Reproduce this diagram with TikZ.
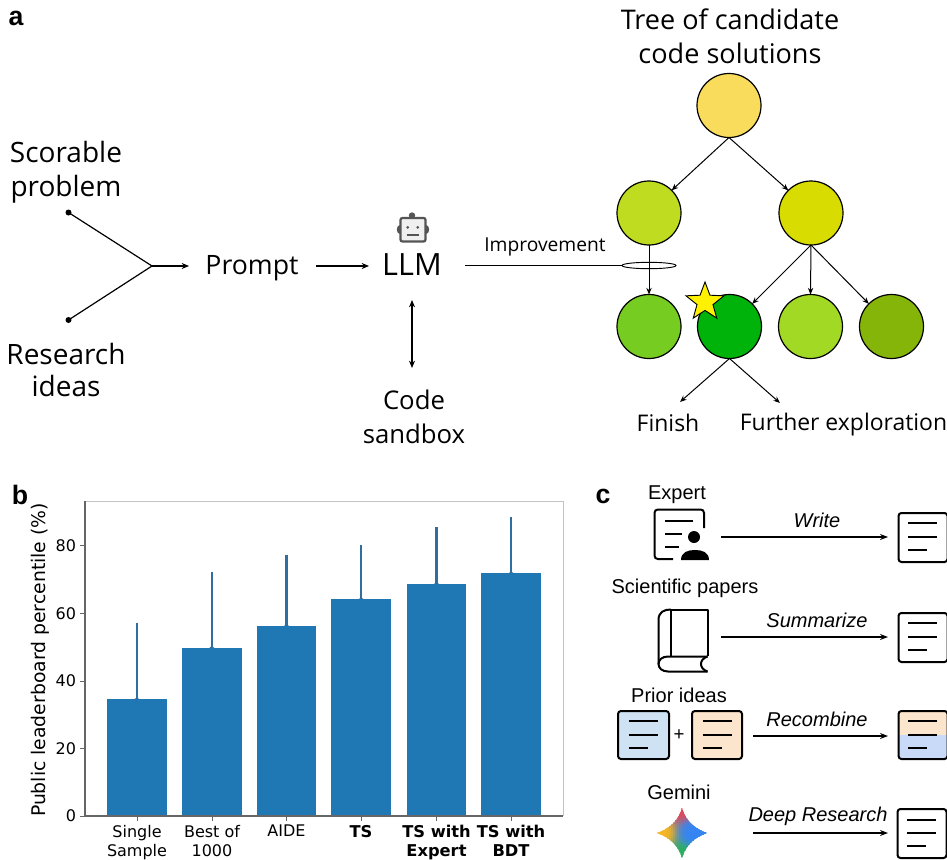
\documentclass[tikz,border=0pt]{standalone}
\usepackage{fontspec}
\setmainfont{Liberation Sans}
\newfontfamily\gfont{Open Sans}
\newfontfamily\dvfont{DejaVu Sans}
\usetikzlibrary{arrows.meta,shapes.geometric}
\definecolor{barblue}{HTML}{1F77B4}
\definecolor{errblue}{HTML}{2F6E9E}
\definecolor{spinegray}{HTML}{666666}
\definecolor{lightspine}{HTML}{C4C4C4}
\definecolor{docblue}{HTML}{CFE2F3}
\definecolor{docorange}{HTML}{FCE5CD}
\definecolor{mixblue}{HTML}{C9DAF8}
\definecolor{robotgray}{HTML}{555555}
\definecolor{troot}{RGB}{249,220,92}
\definecolor{tl}{RGB}{191,220,32}
\definecolor{tr}{RGB}{217,220,0}
\definecolor{tba}{RGB}{118,204,32}
\definecolor{tbb}{RGB}{0,179,10}
\definecolor{tbc}{RGB}{162,217,37}
\definecolor{tbd}{RGB}{134,181,10}
\tikzset{
  x=0.75pt, y=-0.75pt,
  every node/.style={inner sep=0pt, outer sep=0pt},
  biglabel/.style={font=\gfont\fontsize{20.3}{25.5}\selectfont, align=center},
  leaflabel/.style={font=\gfont\fontsize{17.2}{20}\selectfont},
  smlabel/.style={font=\fontsize{15}{18}\selectfont, align=center},
  itlabel/.style={font=\itshape\fontsize{15}{18}\selectfont},
  panel/.style={font=\bfseries\fontsize{20}{22}\selectfont},
  tick/.style={font=\dvfont\fontsize{12}{14.2}\selectfont, align=center},
  btick/.style={font=\dvfont\bfseries\fontsize{12.2}{14.2}\selectfont, align=center},
  treenode/.style={circle, draw=black, line width=0.9pt, minimum size=48pt},
  flow/.style={-{Stealth[length=5.5pt,width=4.5pt]}, line width=0.85pt},
  treearrow/.style={-{Stealth[length=5pt,width=4pt]}, line width=0.75pt},
  docarrow/.style={-{Stealth[length=6pt,width=4.5pt]}, line width=0.9pt},
  bar/.style={fill=barblue, draw=none},
  errbar/.style={draw=errblue, line width=1.6pt},
  doc/.style={rounded corners=2.2pt, line width=1.5pt, draw=black},
  docline/.style={line width=1.5pt, draw=black},
  endpoint/.style={circle, fill=black, minimum size=4.5pt}
}
\newcommand{\doclines}[2]{% x, top y of the document
  \draw[docline] (#1+10,#2+10) -- (#1+39,#2+10);
  \draw[docline] (#1+10,#2+23.5) -- (#1+39,#2+23.5);
  \draw[docline] (#1+10,#2+36.5) -- (#1+29,#2+36.5);
}
\begin{document}
\begin{tikzpicture}
\useasboundingbox (0,0) rectangle (947,860);
% ---- panel letters
\node[panel] (pa) at (16,18) {a};
\node[panel] (pb) at (20,495) {b};
\node[panel] (pc) at (603,496) {c};

% ---- panel a
\node[biglabel, font=\gfont\fontsize{21}{25.5}\selectfont] (scorable) at (66,172.5) {Scorable\\problem};
\node[biglabel, font=\gfont\fontsize{21}{24.5}\selectfont] (research) at (66,370) {Research\\ideas};
\node[endpoint] (d1) at (68.5,212.5) {};
\node[endpoint] (d2) at (68.5,320) {};
\coordinate (merge) at (152,266);
\node[biglabel, font=\gfont\fontsize{20}{25.5}\selectfont] (prompt) at (252,268) {Prompt};
\node[biglabel, font=\gfont\fontsize{23}{25.5}\selectfont] (llm) at (412,265) {LLM};
\node[biglabel, font=\gfont\fontsize{19.3}{25.5}\selectfont] (sandbox) at (414,417) {Code\\sandbox};
\draw[line width=0.9pt] (d1.center) -- (merge);
\draw[line width=0.9pt] (d2.center) -- (merge);
\coordinate (pin) at (189,266);
\draw[flow] (merge) -- (pin);
\coordinate (pout) at (316,266);
\coordinate (lin) at (369,266);
\draw[flow] (pout) -- (lin);
\coordinate (la) at (412,300);
\coordinate (lb) at (412,368);
\draw[{Stealth[length=5.5pt,width=4.5pt]}-{Stealth[length=5.5pt,width=4.5pt]}, line width=0.85pt] (la) -- (lb);

% robot icon
\fill[robotgray] (412,215.5) circle (3.2);
\fill[robotgray] (400,229.5) ellipse (3.2 and 4.5);
\fill[robotgray] (426,229.5) ellipse (3.2 and 4.5);
\draw[robotgray, fill=gray!12, line width=1.7pt, rounded corners=1.5pt] (400.5,218) rectangle (425.5,241.5);
\fill[robotgray] (407.7,227.3) circle (1.5);
\fill[robotgray] (417.7,227.3) circle (1.5);
\draw[robotgray, line width=1.1pt] (406.7,235) -- (419,235);

% tree
\node[biglabel] (treetitle) at (730,36) {Tree of candidate\\code solutions};
\node[treenode, fill=troot] (root) at (729,105.5) {};
\node[treenode, fill=tl] (L) at (649,213) {};
\node[treenode, fill=tr] (R) at (811,213) {};
\node[treenode, fill=tba] (B1) at (649,326.5) {};
\node[treenode, fill=tbb] (B2) at (729.5,326.5) {};
\node[treenode, fill=tbc] (B3) at (810.5,326.5) {};
\node[treenode, fill=tbd] (B4) at (891.5,326.5) {};
\node[star, star points=5, star point ratio=2.38, draw=black, line width=0.7pt, fill=yellow, minimum size=30pt] (beststar) at (705,302) {};
\draw[treearrow] (root.south) -- (L.45);
\draw[treearrow] (root.south) -- (R.135);
\draw[treearrow] (L.south) -- (B1.north);
\draw[treearrow] (R.south) -- (B2.45);
\draw[treearrow] (R.south) -- (B3.north);
\draw[treearrow] (R.south) -- (B4.135);
\node[leaflabel] (finish) at (668,423) {Finish};
\node[leaflabel] (further) at (843.5,425) {Further exploration};
\coordinate (fa) at (680,402);
\coordinate (fb) at (780,403);
\draw[treearrow] (B2.south) -- (fa);
\draw[treearrow] (B2.south) -- (fb);
\node[ellipse, draw=black, line width=0.7pt, minimum width=40.5pt, minimum height=4.8pt] (ring) at (649,265.5) {};
\coordinate (impstart) at (465,265.5);
\draw[line width=0.85pt] (impstart) -- (ring.west);
\node[font=\gfont\fontsize{14.4}{16}\selectfont] (improve) at (545,247) {Improvement};

% ---- panel b
\draw[lightspine, line width=0.7pt] (85,501) -- (563,501) -- (563,816);
\foreach \xa/\xb/\ytop/\yerr in {107/166.7/699.3/622.7, 182/241.7/648/572, 256.7/316.3/625.7/555.3, 331.3/391/599.3/545, 406.7/466.3/584/526.7, 481.3/541/573.3/516.7}{
  \fill[bar] (\xa,\ytop) rectangle (\xb,816);
  \draw[errbar] ({(\xa+\xb)/2},\ytop) -- ({(\xa+\xb)/2},\yerr);
  \fill[errblue] ({(\xa+\xb)/2},\ytop) ++(-2.5,0) -- ++(2.5,-2.2) -- ++(2.5,2.2) -- cycle;
}
\draw[spinegray, line width=0.9pt] (85,501) -- (85,816) -- (563,816);
\foreach \yy/\lab in {816/0, 748.5/20, 681/40, 613.2/60, 545.7/80}{
  \draw[spinegray, line width=0.7pt] (85,\yy) -- (80,\yy);
  \node[tick, anchor=east] (ytick\lab) at (76,\yy) {\lab};
}
\foreach \xx in {137,212,286.5,361,436.5,511}{
  \draw[spinegray, line width=0.7pt] (\xx,816) -- (\xx,821);
}
\node[tick, anchor=north] (t1) at (137,825) {Single\\Sample};
\node[tick, anchor=north] (t2) at (212,825) {Best of\\1000};
\node[tick, anchor=north] (t3) at (286.5,825) {AIDE};
\node[btick, anchor=north] (t4) at (361,825) {TS};
\node[btick, anchor=north] (t5) at (436.5,825) {TS with\\Expert};
\node[btick, anchor=north] (t6) at (511,825) {TS with\\BDT};
\node[font=\dvfont\fontsize{14.1}{16}\selectfont, rotate=90] (ylab) at (40,660) {Public leaderboard percentile (\%)};

% ---- panel c
\node[smlabel] (expert) at (677,495) {Expert};
\node[smlabel] (papers) at (685,588) {Scientific papers};
\node[smlabel] (prior) at (679,695) {Prior ideas};
\node[smlabel] (gemini) at (679,792) {Gemini};
\node[itlabel] (write) at (817,520) {Write};
\node[itlabel] (summ) at (817,620) {Summarize};
\node[itlabel] (recomb) at (817,719) {Recombine};
\node[itlabel] (deep) at (818,816) {Deep Research};

% expert icon
\draw[line width=1.5pt, rounded corners=2.5pt] (704,528) -- (704,509.5) -- (654.5,509.5) -- (654.5,559) -- (673,559);
\draw[docline] (665,521) -- (693,521);
\draw[docline] (665,534) -- (682,534);
\draw[docline] (665,547) -- (679,547);
\fill (694,537) circle (6);
\fill (681,560) .. controls (681,552) and (688,550) .. (695,550) .. controls (702,550) and (709,552) .. (709,560) -- cycle;
% book icon
\draw[line width=1.5pt, line join=round] (671,609.5) -- (707.5,609.5) -- (707.5,656);
\draw[line width=1.5pt] (671,609.5) -- (671,656);
\draw[line width=1.5pt] (671,609.5) .. controls (664,609.5) and (658.5,612) .. (658.5,620) -- (658.5,664);
\draw[line width=1.5pt] (707.5,656.5) -- (668,656.5) .. controls (662,656.5) and (658.5,660) .. (658.5,664) .. controls (658.5,668) and (662,671.5) .. (668,671.5) -- (707.5,671.5);
\draw[line width=1.5pt] (707.5,656.5) .. controls (703,658) and (701,661) .. (701,664) .. controls (701,667) and (703,670) .. (707.5,671.5);
% gemini star: colour blended from four poles
\begin{scope}
\clip (682,808) .. controls (686,822) and (696,829) .. (707,833) .. controls (696,837) and (686,844) .. (682,858) .. controls (678,844) and (668,837) .. (657,833) .. controls (668,829) and (678,822) .. (682,808) -- cycle;
\foreach \px in {656,658,...,708}{
  \foreach \py in {807,809,...,859}{
    \pgfmathsetmacro{\u}{(\px-682)/25}
    \pgfmathsetmacro{\v}{(\py-833)/25}
    \pgfmathsetmacro{\wr}{1/(pow(\u,2)+pow(\v+0.95,2)+0.12)^2}
    \pgfmathsetmacro{\wy}{1/(pow(\u+0.8,2)+pow(\v,2)+0.12)^2}
    \pgfmathsetmacro{\wb}{2.2/(pow(\u-0.45,2)+pow(\v,2)+0.12)^2}
    \pgfmathsetmacro{\wg}{1/(pow(\u,2)+pow(\v-0.85,2)+0.12)^2}
    \pgfmathsetmacro{\ws}{\wr+\wy+\wb+\wg}
    \pgfmathsetmacro{\cr}{(0.90*\wr+0.98*\wy+0.20*\wb+0.16*\wg)/\ws}
    \pgfmathsetmacro{\cg}{(0.27*\wr+0.72*\wy+0.52*\wb+0.69*\wg)/\ws}
    \pgfmathsetmacro{\cb}{(0.33*\wr+0.12*\wy+0.96*\wb+0.35*\wg)/\ws}
    \definecolor{gemcell}{rgb}{\cr,\cg,\cb}
    \fill[gemcell] (\px-1,\py-1) rectangle (\px+1.6,\py+1.6);
  }
}
\end{scope}

% documents
\draw[doc] (898.5,513) rectangle (947.5,562); \doclines{898}{513}
\draw[doc] (898.5,613) rectangle (947.5,662); \doclines{898}{613}
\draw[doc, fill=docblue] (618,711) rectangle (669,759); \doclines{618.5}{711}
\draw[doc, fill=docorange] (692,711) rectangle (742,759); \doclines{692.5}{711}
\node[font=\fontsize{14}{16}\selectfont] (plus) at (679,735) {+};
\begin{scope}
\clip (898.5,711) rectangle (948,759);
\fill[docorange] (898,711) rectangle (948,735);
\fill[mixblue] (898,735) rectangle (948,759);
\end{scope}
\draw[doc] (898.5,711) rectangle (947.5,759); \doclines{898}{711}
\draw[doc] (897.5,809) rectangle (946.5,858); \doclines{897}{809.5}
\coordinate (a1s) at (721,537); \coordinate (a1e) at (888,537);
\coordinate (a2s) at (721,637); \coordinate (a2e) at (888,637);
\coordinate (a3s) at (753,736); \coordinate (a3e) at (888,736);
\coordinate (a4s) at (753,833); \coordinate (a4e) at (888,833);
\draw[docarrow] (a1s) -- (a1e);
\draw[docarrow] (a2s) -- (a2e);
\draw[docarrow] (a3s) -- (a3e);
\draw[docarrow] (a4s) -- (a4e);
\end{tikzpicture}
\end{document}
